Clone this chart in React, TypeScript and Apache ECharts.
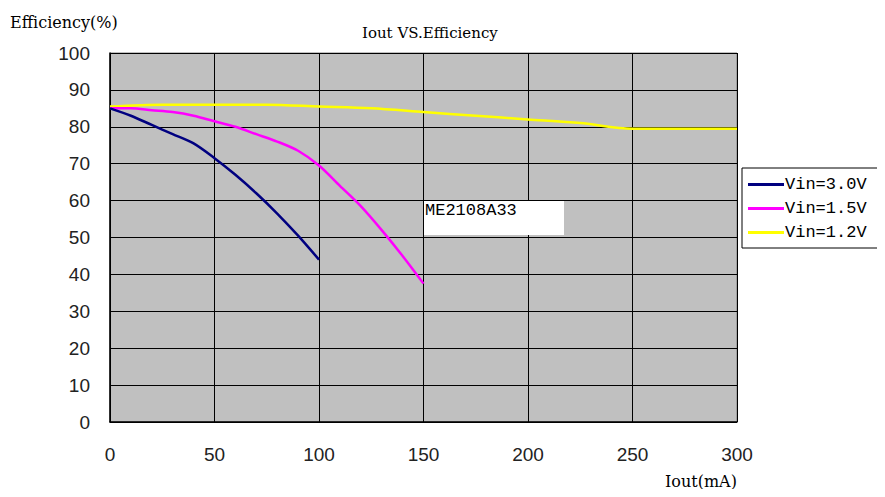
import React, { useEffect, useRef } from "react";
import * as echarts from "echarts";

const xTicks = [0, 50, 100, 150, 200, 250, 300];
const yTicks = [0, 10, 20, 30, 40, 50, 60, 70, 80, 90, 100];

const seriesNames = ["Vin=3.0V", "Vin=1.5V", "Vin=1.2V"];
const seriesColors = ["#000080", "#ff00ff", "#ffff00"];

const vin30: [number, number][] = [
  [0, 85], [10, 83], [20, 80.5], [30, 78], [40, 75.5], [50, 71.5],
  [60, 67], [70, 62], [80, 56.5], [90, 50.5], [100, 44],
];
const vin15: [number, number][] = [
  [0, 85], [10, 85], [20, 84.5], [30, 84], [40, 83], [50, 81.5],
  [60, 80], [70, 78], [80, 76], [90, 73.5], [100, 69.5], [110, 64],
  [120, 58.5], [130, 52], [140, 45], [150, 37.5],
];
const vin12: [number, number][] = [
  [0, 85.5], [25, 86], [50, 86], [75, 86], [100, 85.5], [125, 85],
  [150, 84], [175, 83], [200, 82], [225, 81], [250, 79.5], [275, 79.5], [300, 79.5],
];
const seriesData = [vin30, vin15, vin12];

const titleText = "Iout VS.Efficiency";
const yName = "Efficiency(%)";
const xName = "Iout(mA)";
const noteText = "ME2108A33";

export default function App() {
  const ref = useRef<HTMLDivElement>(null);
  useEffect(() => {
    if (!ref.current) return;
    const chart = echarts.init(ref.current, null, { renderer: "svg" });
    const serif = "'DejaVu Serif', 'Liberation Serif', serif";
    const sans = "'Liberation Sans', Arial, sans-serif";
    chart.setOption({
      animation: false,
      backgroundColor: "#ffffff",
      grid: {
        left: 110, top: 53, right: 148, bottom: 75,
        show: true, backgroundColor: "#c0c0c0", borderColor: "#808080", borderWidth: 1,
      },
      legend: {
        orient: "vertical",
        left: 742, top: 168,
        padding: [8, 12, 7, 6],
        itemGap: 7,
        borderColor: "#000", borderWidth: 1, backgroundColor: "#fff",
        icon: "rect", itemWidth: 36, itemHeight: 3,
        textStyle: { fontFamily: "'Liberation Mono', monospace", fontSize: 17, color: "#000", padding: [0, 0, 0, -4] },
        data: seriesNames,
      },
      xAxis: {
        type: "value", min: 0, max: 300, interval: 50,
        axisLine: { show: true, lineStyle: { color: "#000", width: 1.5 } },
        axisTick: { show: false },
        splitLine: { show: true, lineStyle: { color: "#000", width: 1 } },
        axisLabel: { margin: 23, fontFamily: sans, fontSize: 19, color: "#222",
          formatter: (v: number) => (xTicks.includes(v) ? String(v) : "") },
      },
      yAxis: {
        type: "value", min: 0, max: 100, interval: 10,
        axisLine: { show: true, lineStyle: { color: "#000", width: 1.5 } },
        axisTick: { show: false },
        splitLine: { show: true, lineStyle: { color: "#000", width: 1 } },
        axisLabel: { margin: 20, fontFamily: sans, fontSize: 19, color: "#222",
          formatter: (v: number) => (yTicks.includes(v) ? String(v) : "") },
      },
      graphic: [
        { type: "text", left: 10, top: 14, style: { text: yName, font: `16px ${serif}`, fill: "#000" } },
        { type: "text", left: 362, top: 25, style: { text: titleText, font: `15px ${serif}`, fill: "#000" } },
        { type: "text", left: 665, top: 473, style: { text: xName, font: `16px ${serif}`, fill: "#000" } },
        { type: "rect", shape: { x: 424, y: 201, width: 140, height: 34 }, style: { fill: "#fff" }, z: 10 },
        { type: "text", x: 425, y: 202, z: 11, style: { text: noteText, font: `17px 'Liberation Mono', monospace`, fill: "#000" } },
      ],
      series: seriesData.map((d, i) => ({
        name: seriesNames[i],
        type: "line",
        data: d,
        smooth: 0.3,
        symbol: "none",
        lineStyle: { color: seriesColors[i], width: 2.5 },
        itemStyle: { color: seriesColors[i] },
        z: 5 - i,
      })),
    });
    return () => chart.dispose();
  }, []);
  return <div ref={ref} style={{ width: 885, height: 497, margin: -8 }} />;
}
